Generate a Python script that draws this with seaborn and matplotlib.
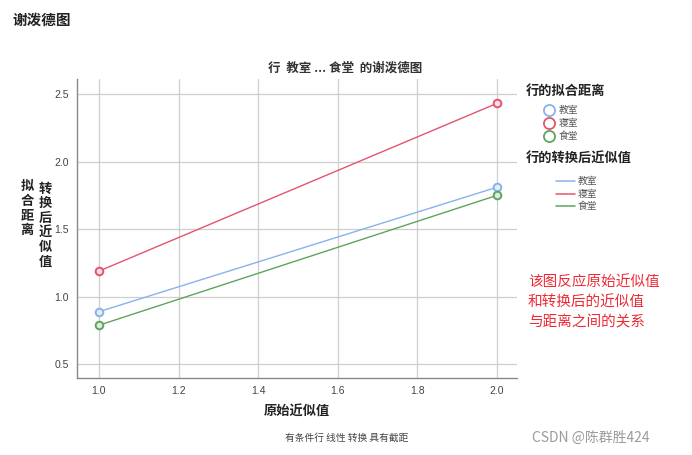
import matplotlib
matplotlib.use("Agg")
import matplotlib.pyplot as plt
from matplotlib.lines import Line2D
import seaborn as sns
import pandas as pd

# ---- data ----
categories = ["教室", "寝室", "食堂"]
x_values = [1.0, 2.0]
y_jiaoshi = [0.89, 1.81]
y_qinshi = [1.19, 2.43]
y_shitang = [0.79, 1.75]
x_ticks = [1.0, 1.2, 1.4, 1.6, 1.8, 2.0]
y_ticks = [0.5, 1.0, 1.5, 2.0, 2.5]
colors = ["#8ab2ea", "#e5546f", "#5ea45e"]

df = pd.DataFrame({
    "x": x_values * 3,
    "y": y_jiaoshi + y_qinshi + y_shitang,
    "cat": [c for c in categories for _ in x_values],
})

sns.set_style("white")
plt.rcParams["font.family"] = ["Noto Sans CJK SC", "DejaVu Sans"]

fig = plt.figure(figsize=(6.92, 4.55), dpi=100)
ax = fig.add_axes([0.1113, 0.1692, 0.747 - 0.1113, 0.8264 - 0.1692])

pal = dict(zip(categories, colors))
sns.lineplot(data=df, x="x", y="y", hue="cat", palette=pal, ax=ax,
             marker="o", markersize=5.5, linewidth=1.0, legend=False,
             sort=False)
faces = ["#e3ecf8", "#f4e0e4", "#dcecdc"]
for line, c, f in zip(ax.get_lines(), colors, faces):
    line.set_markeredgecolor(c)
    line.set_markeredgewidth(1.4)
    line.set_markerfacecolor(f)

ax.set_xlim(0.945, 2.05)
ax.set_ylim(0.40, 2.61)
ax.set_xticks(x_ticks)
ax.set_yticks(y_ticks)
ax.set_xticklabels([f"{v:.1f}" for v in x_ticks], family="Liberation Sans", fontsize=7.5, color="#444444")
ax.set_yticklabels([f"{v:.1f}" for v in y_ticks], family="Liberation Sans", fontsize=7.5, color="#444444")
ax.grid(True, color="#cfcfcf", linewidth=0.9)
ax.set_axisbelow(True)
for s in ["top", "right"]:
    ax.spines[s].set_visible(False)
for s in ["left", "bottom"]:
    ax.spines[s].set_color("#888888")
    ax.spines[s].set_linewidth(1.0)
ax.tick_params(axis="both", length=0, pad=6)
ax.set_xlabel("")
ax.set_ylabel("")

# titles
fig.text(12 / 692, 1 - 20 / 455, "谢泼德图", fontsize=10.5, fontweight="bold", color="#222222", va="center")
fig.text(345 / 692, 1 - 68 / 455, "行  教室 ... 食堂  的谢泼德图", fontsize=9, fontweight="bold", color="#333333",
         ha="center", va="center")
fig.text(297 / 692, 1 - 412 / 455, "原始近似值", fontsize=9.5, fontweight="bold", color="#222222",
         ha="center", va="center")
fig.text(347 / 692, 1 - 438 / 455, "有条件行 线性 转换 具有截距", fontsize=7, color="#444444",
         ha="center", va="center")

# y label as stacked characters in two columns
fig.text(27 / 692, 1 - 208 / 455, "\n".join("拟合距离"), fontsize=9.5, fontweight="bold", color="#222222",
         ha="center", va="center", linespacing=1.05)
fig.text(45 / 692, 1 - 225 / 455, "\n".join("转换后近似值"), fontsize=9.5, fontweight="bold", color="#222222",
         ha="center", va="center", linespacing=1.05)

# legend
fig.text(526 / 692, 1 - 91 / 455, "行的拟合距离", fontsize=9.5, fontweight="bold", color="#222222", va="center")
fig.text(526 / 692, 1 - 159 / 455, "行的转换后近似值", fontsize=9.5, fontweight="bold", color="#222222", va="center")
for i, (cat, c) in enumerate(zip(categories, colors)):
    yy = 1 - (110 + 13 * i) / 455
    fig.add_artist(Line2D([549 / 692], [yy], marker="o", markersize=8, markerfacecolor="none",
                          markeredgecolor=c, markeredgewidth=1.3, transform=fig.transFigure))
    fig.text(559 / 692, yy, cat, fontsize=7, color="#555555", va="center")
    yl = 1 - (181 + 12.5 * i) / 455
    fig.add_artist(Line2D([556 / 692, 575 / 692], [yl, yl], color=c, linewidth=1.1,
                          transform=fig.transFigure))
    fig.text(578 / 692, yl, cat, fontsize=7, color="#555555", va="center")

# annotation
for i, t in enumerate(["该图反应原始近似值", "和转换后的近似值", "与距离之间的关系"]):
    fig.text(528 / 692, 1 - (283 + 19.5 * i) / 455, t, fontsize=10.5, color="#ee2a35", va="center")

fig.text(532 / 692, 1 - 438 / 455, "CSDN @陈群胜424", fontsize=10, color="#9a9a9a", va="center")

fig.savefig("out.png", dpi=100)
